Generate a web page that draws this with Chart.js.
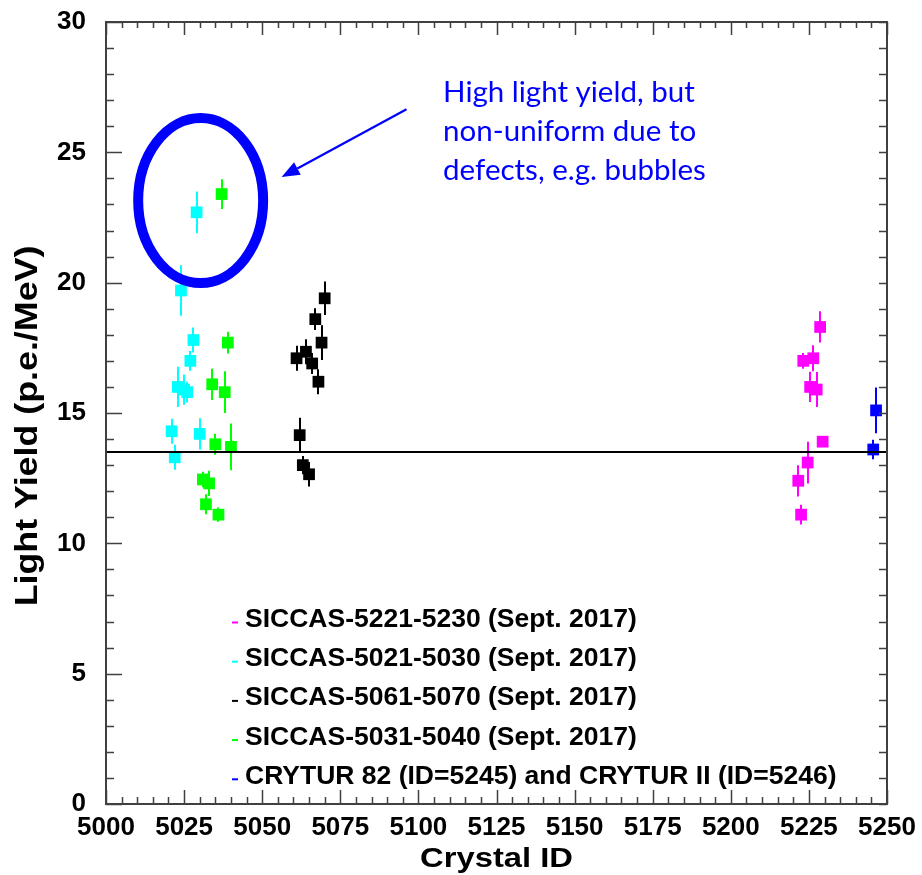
<!DOCTYPE html>
<html>
<head>
<meta charset="utf-8">
<script src="https://cdn.jsdelivr.net/npm/chart.js@4/dist/chart.umd.min.js"></script>
<style>
  html, body { margin: 0; padding: 0; background: #ffffff; }
  canvas { display: block; }
</style>
</head>
<body>
<canvas id="chart" width="922" height="875"></canvas>
<script>
// ---- axis ranges and ticks ----
const xTickValues = [5000, 5025, 5050, 5075, 5100, 5125, 5150, 5175, 5200, 5225, 5250];
const yTickValues = [0, 5, 10, 15, 20, 25, 30];

// ---- series: crystal ID, light yield (p.e./MeV), error ----
const siccas5221Ids = [5221.6, 5222.5, 5223.2, 5224.6, 5225.4, 5226.4, 5227.5, 5228.6, 5229.4];
const siccas5221LY  = [12.4, 11.1, 17.0, 13.1, 16.0, 17.1, 15.9, 18.3, 13.9];
const siccas5221Err = [0.6, 0.38, 0.3, 0.8, 0.58, 0.5, 0.67, 0.6, 0];

const siccas5021Ids = [5021, 5022, 5023, 5024, 5025, 5026, 5027, 5028, 5029, 5030];
const siccas5021LY  = [14.3, 13.3, 16.0, 19.7, 15.9, 15.8, 17.0, 17.8, 22.7, 14.2];
const siccas5021Err = [0.48, 0.48, 0.77, 0.97, 0.58, 0.4, 0.38, 0.48, 0.8, 0.6];

const siccas5061Ids = [5061, 5062, 5063, 5064, 5065, 5066, 5067, 5068, 5069, 5070];
const siccas5061LY  = [17.1, 14.15, 13.0, 17.35, 12.65, 16.9, 18.6, 16.2, 17.7, 19.4];
const siccas5061Err = [0.48, 0.67, 0.35, 0.48, 0.47, 0.4, 0.42, 0.48, 0.67, 0.64];

const siccas5031Ids = [5031, 5032, 5033, 5034, 5035, 5036, 5037, 5038, 5039, 5040];
const siccas5031LY  = [12.45, 11.5, 12.3, 16.1, 13.8, 11.1, 23.4, 15.8, 17.7, 13.7];
const siccas5031Err = [0.3, 0.38, 0.48, 0.6, 0.4, 0.27, 0.57, 0.8, 0.42, 0.9];

const crycturIds = [5245.6, 5246.5];
const crycturLY  = [13.6, 15.1];
const crycturErr = [0.37, 0.88];

// average light yield reference line
const referenceLY = 13.5;

// ---- labels ----
const seriesLabels = [
  'SICCAS-5221-5230 (Sept. 2017)',
  'SICCAS-5021-5030 (Sept. 2017)',
  'SICCAS-5061-5070 (Sept. 2017)',
  'SICCAS-5031-5040 (Sept. 2017)',
  'CRYTUR 82 (ID=5245) and CRYTUR II (ID=5246)'
];
const seriesColors = ['#ff00ff', '#00ffff', '#000000', '#00ff00', '#0000ff'];
const xTitle = 'Crystal ID';
const yTitle = 'Light Yield (p.e./MeV)';
const noteLines = ['High light yield, but', 'non-uniform due to', 'defects, e.g. bubbles'];

// annotation geometry in data units
const ringCenter = { x: 5030.3, y: 23.15 };
const ringRadius = { x: 20.0, y: 3.165 };
const arrowFrom = { x: 5096.2, y: 26.65 };
const arrowTo = { x: 5056.2, y: 24.05 };
const noteAnchor = { x: 5107.9, y: [26.95, 25.42, 23.95] };

const FONT = '"Liberation Sans", Arial, Helvetica, sans-serif';
const FRAME = '#404040';

function points(ids, ly, err) {
  return ids.map((id, i) => ({ x: id, y: ly[i], e: err[i] }));
}

const seriesData = [
  points(siccas5221Ids, siccas5221LY, siccas5221Err),
  points(siccas5021Ids, siccas5021LY, siccas5021Err),
  points(siccas5061Ids, siccas5061LY, siccas5061Err),
  points(siccas5031Ids, siccas5031LY, siccas5031Err),
  points(crycturIds, crycturLY, crycturErr)
];

const datasets = seriesData.map((d, i) => ({
  label: seriesLabels[i],
  data: d,
  pointStyle: 'rect',
  pointRadius: 8.3,
  pointHoverRadius: 8.3,
  pointBackgroundColor: seriesColors[i],
  pointBorderWidth: 0,
  borderColor: seriesColors[i],
  showLine: false
}));

// scale boxes keep a fixed size and claim no extra overflow room
function fixBox(size) {
  return s => {
    if (s.isHorizontal()) s.height = size; else s.width = size;
    s.paddingTop = 0; s.paddingBottom = 0; s.paddingLeft = 0; s.paddingRight = 0;
  };
}

// error bars, frame, inward ticks, reference line, legend, titles and note
const decorations = {
  id: 'decorations',
  beforeDatasetsDraw(chart) {
    const { ctx, scales: { x, y } } = chart;
    ctx.save();
    ctx.lineWidth = 2;
    chart.data.datasets.forEach(ds => {
      ctx.strokeStyle = ds.pointBackgroundColor;
      ds.data.forEach(p => {
        if (!p.e) return;
        const px = Math.round(x.getPixelForValue(p.x));
        ctx.beginPath();
        ctx.moveTo(px, y.getPixelForValue(p.y + p.e));
        ctx.lineTo(px, y.getPixelForValue(p.y - p.e));
        ctx.stroke();
      });
    });
    ctx.restore();
  },
  afterDatasetsDraw(chart) {
    const { ctx, chartArea: a, scales: { x, y } } = chart;
    ctx.save();

    // reference line
    const ry = Math.round(y.getPixelForValue(referenceLY));
    ctx.strokeStyle = '#000000';
    ctx.lineWidth = 2;
    ctx.beginPath();
    ctx.moveTo(a.left, ry);
    ctx.lineTo(a.right, ry);
    ctx.stroke();

    // frame
    ctx.strokeStyle = FRAME;
    ctx.lineWidth = 2;
    ctx.strokeRect(a.left, a.top, a.right - a.left, a.bottom - a.top);

    // inward ticks on all sides
    ctx.lineWidth = 1.5;
    ctx.beginPath();
    for (let v = y.min; v <= y.max; v += 1) {
      const py = Math.round(y.getPixelForValue(v)) + 0.5;
      const major = v % 5 === 0;
      ctx.moveTo(a.left, py); ctx.lineTo(a.left + (major ? 16 : 8), py);
      ctx.moveTo(a.right, py); ctx.lineTo(a.right - 8, py);
    }
    for (let v = x.min; v <= x.max; v += 5) {
      const px = Math.round(x.getPixelForValue(v)) + 0.5;
      const major = (v - x.min) % 25 === 0;
      ctx.moveTo(px, a.bottom); ctx.lineTo(px, a.bottom - (major ? 14 : 7));
      ctx.moveTo(px, a.top); ctx.lineTo(px, a.top + (major ? 13 : 6));
    }
    ctx.stroke();

    // legend
    ctx.font = 'bold 26.5px ' + FONT;
    ctx.textAlign = 'left';
    ctx.textBaseline = 'alphabetic';
    chart.data.datasets.forEach((ds, i) => {
      const base = 627 + i * 39.2;
      ctx.strokeStyle = ds.pointBackgroundColor;
      ctx.lineWidth = 2;
      ctx.beginPath();
      ctx.moveTo(232, base - 4.5);
      ctx.lineTo(238, base - 4.5);
      ctx.stroke();
      ctx.fillStyle = '#000000';
      ctx.fillText(ds.label, 245, base);
    });

    // axis titles
    ctx.fillStyle = '#000000';
    ctx.textAlign = 'center';
    ctx.font = 'bold 28px ' + FONT;
    ctx.save();
    ctx.translate((a.left + a.right) / 2, 866.5);
    ctx.scale(1.17, 1);
    ctx.fillText(xTitle, 0, 0);
    ctx.restore();

    ctx.font = 'bold 31px ' + FONT;
    ctx.save();
    ctx.translate(37, 426);
    ctx.rotate(-Math.PI / 2);
    ctx.scale(1.155, 1);
    ctx.fillText(yTitle, 0, 0);
    ctx.restore();

    // highlighted group
    const cx = x.getPixelForValue(ringCenter.x);
    const cy = y.getPixelForValue(ringCenter.y);
    const rx = x.getPixelForValue(ringCenter.x + ringRadius.x) - cx;
    const rY = cy - y.getPixelForValue(ringCenter.y + ringRadius.y);
    ctx.strokeStyle = '#0000ff';
    ctx.lineWidth = 10;
    ctx.beginPath();
    ctx.ellipse(cx, cy, rx, rY, 0, 0, Math.PI * 2);
    ctx.stroke();

    // arrow pointing at the ring
    const x0 = x.getPixelForValue(arrowFrom.x), y0 = y.getPixelForValue(arrowFrom.y);
    const x1 = x.getPixelForValue(arrowTo.x), y1 = y.getPixelForValue(arrowTo.y);
    const ang = Math.atan2(y1 - y0, x1 - x0);
    const headLen = 18, headHalf = 7;
    const bx = x1 - headLen * Math.cos(ang), by = y1 - headLen * Math.sin(ang);
    ctx.lineWidth = 2.2;
    ctx.beginPath();
    ctx.moveTo(x0, y0);
    ctx.lineTo(bx, by);
    ctx.stroke();
    ctx.fillStyle = '#0000ff';
    ctx.beginPath();
    ctx.moveTo(x1, y1);
    ctx.lineTo(bx + headHalf * Math.sin(ang), by - headHalf * Math.cos(ang));
    ctx.lineTo(bx - headHalf * Math.sin(ang), by + headHalf * Math.cos(ang));
    ctx.closePath();
    ctx.fill();

    // note text
    ctx.font = '29.5px Lato, "Open Sans", sans-serif';
    ctx.textAlign = 'left';
    ctx.textBaseline = 'alphabetic';
    ctx.fillStyle = '#0000ff';
    const nx = x.getPixelForValue(noteAnchor.x);
    noteLines.forEach((t, i) => {
      ctx.fillText(t, nx, y.getPixelForValue(noteAnchor.y[i]));
    });

    ctx.restore();
  }
};

new Chart(document.getElementById('chart'), {
  type: 'scatter',
  data: { datasets },
  options: {
    responsive: false,
    animation: false,
    devicePixelRatio: 1,
    layout: { padding: { top: 22, right: 35, left: 0, bottom: 0 } },
    plugins: { legend: { display: false }, tooltip: { enabled: false } },
    scales: {
      x: {
        type: 'linear',
        min: 5000,
        max: 5250,
        afterFit: fixBox(71),
        afterBuildTicks: s => { s.ticks = xTickValues.map(v => ({ value: v })); },
        grid: { display: false, drawTicks: false },
        border: { display: false },
        ticks: {
          color: '#000000',
          padding: 8,
          maxRotation: 0,
          autoSkip: false,
          callback: v => String(v),
          font: { family: FONT, size: 26, weight: 'bold' }
        }
      },
      y: {
        type: 'linear',
        min: 0,
        max: 30,
        afterFit: fixBox(106),
        afterBuildTicks: s => { s.ticks = yTickValues.map(v => ({ value: v })); },
        grid: { display: false, drawTicks: false },
        border: { display: false },
        ticks: {
          color: '#000000',
          padding: 20,
          callback: v => String(v),
          font: { family: FONT, size: 26, weight: 'bold' }
        }
      }
    }
  },
  plugins: [decorations]
});
</script>
</body>
</html>
